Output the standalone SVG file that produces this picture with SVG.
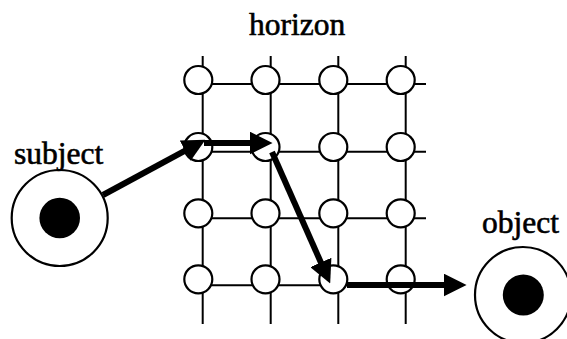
<svg xmlns="http://www.w3.org/2000/svg" width="567" height="339" viewBox="0 0 567 339">
<style>
  .lbl { font-family: "Liberation Serif", "Times New Roman", serif; font-size: 31.5px; fill: #000; stroke: #000; stroke-width: 0.6; }
  .grid { stroke: #000; stroke-width: 2; fill: none; }
  .node { fill: #fff; stroke: #000; stroke-width: 2.2; }
  .ring { fill: #fff; stroke: #000; stroke-width: 2.2; }
  .core { fill: #000; }
  .arrow { stroke: #000; stroke-width: 6; fill: none; marker-end: url(#head); }
</style>
<defs>
  <marker id="head" markerUnits="userSpaceOnUse" markerWidth="23" markerHeight="23" refX="10" refY="11" orient="auto" viewBox="0 0 22 22">
    <path d="M0,0 L22,11 L0,22 z" fill="#000"/>
  </marker>
</defs>
<rect width="567" height="339" fill="#fff"/>

<g id="horizon-grid">
  <g class="grid">
    <line x1="202.7" y1="56" x2="202.7" y2="324"/>
    <line x1="270.7" y1="56" x2="270.7" y2="324"/>
    <line x1="338.3" y1="56" x2="338.3" y2="324"/>
    <line x1="405.7" y1="56" x2="405.7" y2="324"/>
    <line x1="202.7" y1="84" x2="426" y2="84"/>
    <line x1="202.7" y1="151.7" x2="426" y2="151.7"/>
    <line x1="202.7" y1="218.3" x2="426" y2="218.3"/>
    <line x1="202.7" y1="285.3" x2="426" y2="285.3"/>
  </g>
  <g id="n11"><circle class="node" cx="198.3" cy="80" r="14"/></g>
  <g id="n12"><circle class="node" cx="265.5" cy="80" r="14"/></g>
  <g id="n13"><circle class="node" cx="333.3" cy="80" r="14"/></g>
  <g id="n14"><circle class="node" cx="400.7" cy="80" r="14"/></g>
  <g id="n21"><circle class="node" cx="198.3" cy="147" r="14"/></g>
  <g id="n22"><circle class="node" cx="265.5" cy="147" r="14"/></g>
  <g id="n23"><circle class="node" cx="333.3" cy="147" r="14"/></g>
  <g id="n24"><circle class="node" cx="400.7" cy="147" r="14"/></g>
  <g id="n31"><circle class="node" cx="198.3" cy="213.3" r="14"/></g>
  <g id="n32"><circle class="node" cx="265.5" cy="213.3" r="14"/></g>
  <g id="n33"><circle class="node" cx="333.3" cy="213.3" r="14"/></g>
  <g id="n34"><circle class="node" cx="400.7" cy="213.3" r="14"/></g>
  <g id="n41"><circle class="node" cx="198.3" cy="279.3" r="14"/></g>
  <g id="n42"><circle class="node" cx="265.5" cy="279.3" r="14"/></g>
  <g id="n43"><circle class="node" cx="333.3" cy="279.3" r="14"/></g>
  <g id="n44"><circle class="node" cx="400.7" cy="279.3" r="14"/></g>
  <text class="lbl" x="249" y="35">horizon</text>
</g>

<g id="subject">
  <circle class="ring" cx="59.7" cy="218" r="48"/>
  <circle class="core" cx="59.7" cy="218" r="20.3"/>
  <text class="lbl" x="14" y="164">subject</text>
</g>

<g id="object">
  <circle class="ring" cx="523" cy="295" r="48"/>
  <circle class="core" cx="523.3" cy="295" r="20.5"/>
  <text class="lbl" x="482" y="233">object</text>
</g>

<g id="connectors">
  <line class="arrow" x1="103" y1="195" x2="194.4" y2="145.7"/>
  <line class="arrow" x1="204" y1="143" x2="260" y2="143"/>
  <line class="arrow" x1="272" y1="152" x2="325.1" y2="272"/>
  <line class="arrow" x1="347" y1="285" x2="454" y2="285"/>
</g>
</svg>
